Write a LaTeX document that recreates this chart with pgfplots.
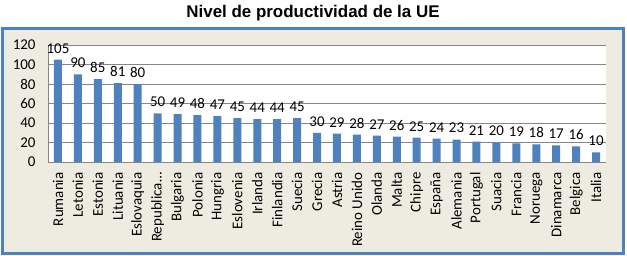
\documentclass[border=0pt]{standalone}
\usepackage{pgfplots}
\pgfplotsset{compat=1.18}
\usepackage{fontspec}
\setmainfont{Carlito}
\newfontfamily\titlefont{Liberation Sans}
\definecolor{barblue}{RGB}{79,129,189}
\definecolor{beige}{RGB}{238,236,225}
\definecolor{gridgray}{RGB}{134,134,134}
\begin{document}
\begin{tikzpicture}[x=1bp,y=1bp]
\useasboundingbox (-48,-93) rectangle (579,162);
\fill[white] (-48,-93) rectangle (579,162);
\draw[barblue, line width=3bp, fill=beige] (-45,-91) rectangle (575,134);
\node[font=\titlefont\bfseries\fontsize{17}{20}\selectfont] at (265,149) {Nivel de productividad de la UE};
\begin{axis}[
  at={(0,0)}, anchor=south west, scale only axis,
  width=558bp, height=117bp,
  ybar, bar width=8bp,
  ymin=0, ymax=120, ytick={0,20,...,120},
  xmin=-0.5, xmax=27.5, xtick=data,
  xticklabels={Rumania,Letonia,Estonia,Lituania,Eslovaquia,Republica…,Bulgaria,Polonia,Hungria,Eslovenia,Irlanda,Finlandia,Suecia,Grecia,Astria,Reino Unido,Olanda,Malta,Chipre,España,Alemania,Portugal,Suacia,Francia,Noruega,Dinamarca,Belgica,Italia},
  /pgf/number format/assume math mode=true,
  ticklabel style={font=\fontsize{15}{17}\selectfont, text=black},
  x tick label style={yshift=-7bp, rotate=90, anchor=east},
  y tick label style={xshift=-9bp},
  axis x line*=bottom, axis y line*=left,
  axis line style={gridgray, line width=0.75bp},
  ymajorgrids, grid style={gridgray, line width=0.75bp},
  major tick length=0pt,
  axis background/.style={fill=white},
  nodes near coords,
  every node near coord/.append style={font=\fontsize{15}{17}\selectfont, text=black, yshift=3bp},
  enlargelimits=false,
]
\addplot[fill=barblue, draw=none] coordinates {
(0,105) (1,90) (2,85) (3,81) (4,80) (5,50) (6,49) (7,48) (8,47) (9,45)
(10,44) (11,44) (12,45) (13,30) (14,29) (15,28) (16,27) (17,26) (18,25) (19,24)
(20,23) (21,21) (22,20) (23,19) (24,18) (25,17) (26,16) (27,10)
};
\end{axis}
\end{tikzpicture}
\end{document}
